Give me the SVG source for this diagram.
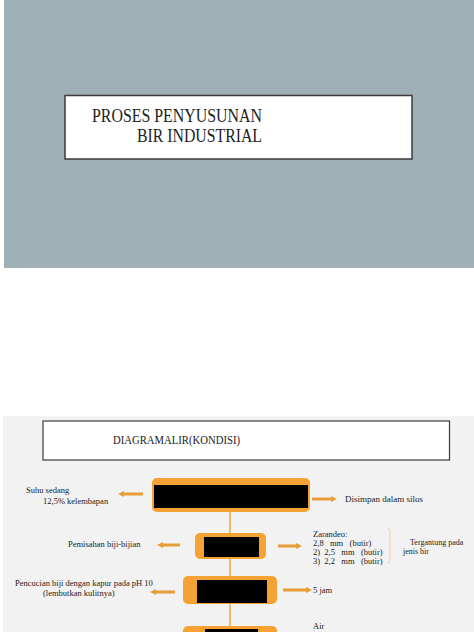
<svg xmlns="http://www.w3.org/2000/svg" width="474" height="632" viewBox="0 0 474 632">
<defs>
<style>
.t{font-family:"Liberation Serif","Times New Roman",serif;fill:#222;}
.s{font-size:8.5px;}
.ob{fill:#f4a233;}
.bk{fill:#000;}
.ln{stroke:#eda545;stroke-width:1.5;fill:none;}
.ar{stroke:#e99d36;stroke-width:3;fill:none;marker-end:url(#ah);}
</style>
<marker id="ah" viewBox="0 0 6 6" refX="3" refY="3" markerWidth="2" markerHeight="2" orient="auto">
<path d="M0,0 L6,3 L0,6 z" fill="#e99d36"/>
</marker>
</defs>
<rect x="0" y="0" width="474" height="632" fill="#ffffff"/>
<rect x="4" y="0" width="470" height="268" fill="#9eb0b6"/>
<g id="title">
<rect x="65" y="95.5" width="347" height="63.5" fill="#ffffff" stroke="#3a3a3a" stroke-width="1.5"/>
<text class="t" x="92" y="122" font-size="18" textLength="170" lengthAdjust="spacingAndGlyphs">PROSES PENYUSUNAN</text>
<text class="t" x="137" y="142" font-size="18" textLength="125" lengthAdjust="spacingAndGlyphs">BIR INDUSTRIAL</text>
</g>
<rect x="3" y="416" width="471" height="216" fill="#f2f2f2"/>
<g id="header">
<rect x="43" y="421" width="406.5" height="39" fill="#ffffff" stroke="#3a3a3a" stroke-width="1.2"/>
<text class="t" x="113" y="444" font-size="13" textLength="127" lengthAdjust="spacingAndGlyphs">DIAGRAMALIR(KONDISI)</text>
</g>
<g id="connectors">
<path class="ln" d="M230,512 V533 M230,559 V576 M230,604 V626"/>
<path class="ar" d="M143,494 H121"/>
<path class="ar" d="M312,499 H334"/>
<path class="ar" d="M180,545 H160"/>
<path class="ar" d="M278,546 H299"/>
<path class="ar" d="M175,592 H153"/>
<path class="ar" d="M283,590 H309"/>
<path d="M387,528 Q390,528 390,531 V560 Q390,563 387,563" stroke="#f0c89a" stroke-width="0.8" fill="none"/>
</g>
<g id="node1">
<rect class="ob" x="152" y="478" width="158" height="34" rx="5"/>
<rect class="bk" x="154" y="485" width="154" height="23"/>
</g>
<g id="node2">
<rect class="ob" x="195" y="533" width="71" height="26" rx="5"/>
<rect class="bk" x="204" y="537" width="55" height="20"/>
</g>
<g id="node3">
<rect class="ob" x="183" y="576" width="94" height="28" rx="5"/>
<rect class="bk" x="197" y="580" width="70" height="23"/>
</g>
<g id="node4">
<rect class="ob" x="183" y="626" width="94" height="20" rx="5"/>
<rect class="bk" x="205" y="629" width="53" height="10"/>
</g>
<g id="labels">
<text class="t s" x="26" y="493">Suhu sedang</text>
<text class="t s" x="43" y="504">12,5% kelembapan</text>
<text class="t" x="345" y="502" font-size="9">Disimpan dalam silos</text>
<text class="t s" x="68" y="547">Pemisahan biji-bijian</text>
<text class="t s" x="313" y="537">Zarandeo:</text>
<text class="t s" x="313" y="546" xml:space="preserve">2,8   mm   (butir)</text>
<text class="t s" x="313" y="555" xml:space="preserve">2)  2,5   mm   (butir)</text>
<text class="t s" x="313" y="564" xml:space="preserve">3)  2,2   mm   (butir)</text>
<text class="t" x="410" y="545" font-size="8">Tergantung pada</text>
<text class="t" x="403" y="554" font-size="8">jenis bir</text>
<text class="t s" x="15" y="586">Pencucian biji dengan kapur pada pH 10</text>
<text class="t s" x="43" y="596">(lembutkan kulitnya)</text>
<text class="t s" x="313" y="593">5 jam</text>
<text class="t s" x="313" y="629">Air</text>
</g>
</svg>
